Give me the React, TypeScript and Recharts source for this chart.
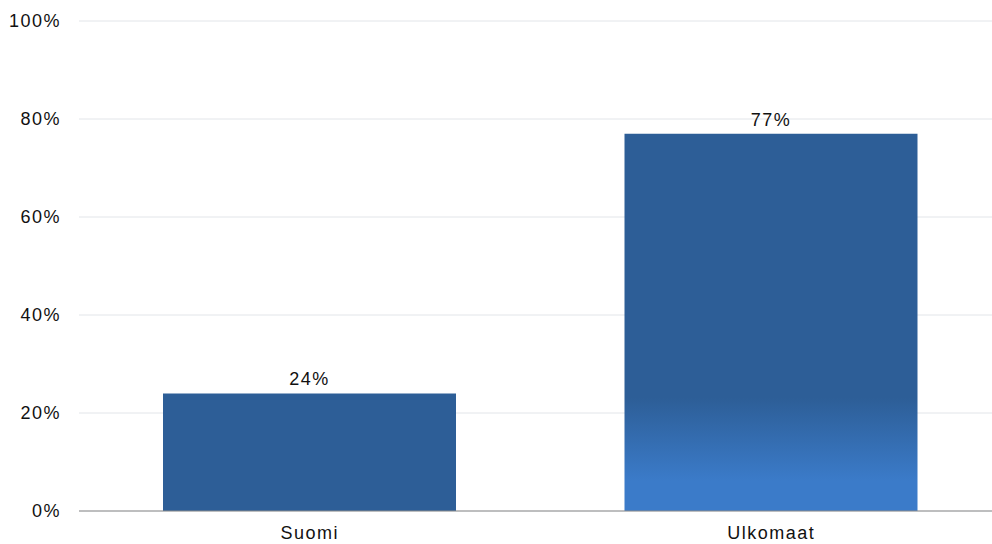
import { BarChart, Bar, XAxis, YAxis, CartesianGrid, LabelList, Cell } from "recharts";

const categories = ["Suomi", "Ulkomaat"];
const shares = [24, 77];
const yTicks = [0, 20, 40, 60, 80, 100];

const data = categories.map((name, i) => ({ name, value: shares[i] }));

const font = { fontFamily: "Liberation Sans, Arial, sans-serif", fontSize: 18, letterSpacing: 1.5, fill: "#111" };

export default function App() {
  return (
    <div style={{ position: "absolute", left: 0, top: 0, width: 992, height: 544, overflow: "hidden" }}>
      <BarChart
        width={1002}
        height={544}
        data={data}
        margin={{ top: 21, right: 0, left: 0, bottom: 0 }}
        barSize={293}
      >
        <defs>
          <linearGradient id="ulkoGrad" x1="0" y1="0" x2="0" y2="1">
            <stop offset="0.7" stopColor="#2d5e97" />
            <stop offset="0.92" stopColor="#3b7bc9" />
            <stop offset="1" stopColor="#3b7bc9" />
          </linearGradient>
        </defs>
        <CartesianGrid vertical={false} stroke="#e2e5e9" />
        <XAxis
          dataKey="name"
          height={33}
          tickLine={false}
          tickMargin={9}
          axisLine={{ stroke: "#8a8a8a" }}
          tick={font}
        />
        <YAxis
          width={79}
          domain={[0, 100]}
          ticks={yTicks}
          tickFormatter={(v) => `${v}%`}
          axisLine={false}
          tickLine={false}
          tickMargin={12}
          tick={font}
        />
        <Bar dataKey="value" isAnimationActive={false}>
          {data.map((d, i) => (
            <Cell key={d.name} fill={i === 1 ? "url(#ulkoGrad)" : "#2d5e97"} />
          ))}
          <LabelList
            dataKey="value"
            position="top"
            offset={8}
            formatter={(v: number) => `${v}%`}
            style={font}
          />
        </Bar>
      </BarChart>
    </div>
  );
}
